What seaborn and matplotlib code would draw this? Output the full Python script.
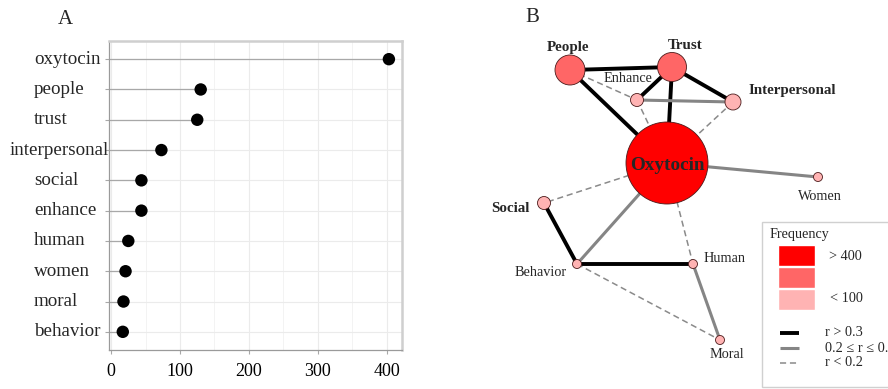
import matplotlib
matplotlib.use('Agg')
import matplotlib.pyplot as plt
import matplotlib.transforms as mtransforms
import seaborn as sns
import pandas as pd
from matplotlib.patches import Rectangle

# ---------------- data ----------------
words = ['oxytocin', 'people', 'trust', 'interpersonal', 'social',
         'enhance', 'human', 'women', 'moral', 'behavior']
freqs = [403, 130, 125, 73, 44, 44, 25, 21, 18, 17]
x_ticks = [0, 100, 200, 300, 400]
x_minor_ticks = [50, 150, 250, 350]

node_names = ['Oxytocin', 'People', 'Trust', 'Enhance', 'Interpersonal',
              'Women', 'Social', 'Behavior', 'Human', 'Moral']
node_x = [667, 570, 672, 637, 733, 818, 544, 577, 693, 720]
node_y = [163, 70, 67, 100, 102, 177, 203, 264, 264, 340]
node_level = ['high', 'mid', 'mid', 'low', 'low', 'low', 'low', 'low', 'low', 'low']
node_bold = [True, True, True, False, True, False, True, False, False, False]

edge_src = ['People', 'People', 'People', 'Trust', 'Trust', 'Trust', 'Enhance',
            'Enhance', 'Interpersonal', 'Oxytocin', 'Oxytocin', 'Oxytocin',
            'Oxytocin', 'Social', 'Behavior', 'Behavior', 'Human']
edge_dst = ['Trust', 'Oxytocin', 'Enhance', 'Enhance', 'Oxytocin', 'Interpersonal',
            'Interpersonal', 'Oxytocin', 'Oxytocin', 'Women', 'Social', 'Behavior',
            'Human', 'Behavior', 'Human', 'Moral', 'Moral']
edge_r = ['strong', 'strong', 'weak', 'strong', 'strong', 'strong', 'medium',
          'weak', 'weak', 'medium', 'weak', 'medium', 'weak', 'strong', 'strong',
          'weak', 'medium']

legend_freq_labels = ['> 400', '', '< 100']
legend_edge_labels = ['r > 0.3', '0.2 \u2264 r \u2264 0.3', 'r < 0.2']

# ---------------- styles ----------------
sns.set_theme(style='whitegrid')
plt.rcParams['font.family'] = ['Liberation Serif', 'DejaVu Serif']

level_color = {'high': '#FF0000', 'mid': '#FF6666', 'low': '#FFB3B3'}
node_radius_px = {'Oxytocin': 41, 'People': 15, 'Trust': 14.5, 'Enhance': 6.5,
                  'Interpersonal': 8, 'Women': 4.5, 'Social': 6.5,
                  'Behavior': 4.5, 'Human': 4.5, 'Moral': 4.5}
edge_style = {'strong': dict(color='black', lw=2.8, ls='-'),
              'medium': dict(color='#858585', lw=2.2, ls='-'),
              'weak': dict(color='#8a8a8a', lw=1.1, ls=(0, (4, 2.5)))}

W, H = 888, 389
fig = plt.figure(figsize=(W / 100, H / 100), dpi=100)

# ---------------- panel A ----------------
axA = fig.add_axes([109 / W, 1 - 350 / H, 293 / W, 309 / H])
df = pd.DataFrame({'word': words, 'freq': freqs})
xmin = -3
axA.hlines(y=range(len(words)), xmin=xmin, xmax=df['freq'], color='#a8a8a8', lw=0.9, zorder=1)
sns.scatterplot(data=df, x='freq', y='word', color='black', s=80, edgecolor='none',
                ax=axA, zorder=3, legend=False)
axA.set_xlim(xmin, 422)
axA.set_ylim(len(words) - 0.4, -0.6)
axA.set_xticks(x_ticks)
axA.set_xticks(x_minor_ticks, minor=True)
axA.set_xlabel('')
axA.set_ylabel('')
axA.grid(True, which='major', color='#ebebeb', lw=0.8)
axA.grid(True, which='minor', axis='x', color='#f3f3f3', lw=0.7)
axA.set_facecolor('white')
for side in ['left', 'bottom']:
    axA.spines[side].set_color('#9a9a9a')
    axA.spines[side].set_linewidth(0.9)
for side in ['top', 'right']:
    axA.spines[side].set_color('#cfcfcf')
    axA.spines[side].set_linewidth(1.8)
axA.tick_params(axis='both', which='major', labelsize=13, colors='#a8a8a8',
                labelcolor='black', length=3, width=0.8, left=True, bottom=True, pad=2)
axA.tick_params(axis='x', which='minor', bottom=False)
axA.tick_params(axis='x', pad=6)
axA.set_yticks(range(len(words)))
axA.set_yticklabels([])
lab_trans = mtransforms.blended_transform_factory(fig.transFigure, axA.transData)
for i, w in enumerate(words):
    if w == 'interpersonal':
        axA.text(108.5 / W, i, w, transform=lab_trans, ha='right', va='center',
                 fontsize=13.7, clip_on=False)
    else:
        axA.text(34 / W, i, w, transform=lab_trans, ha='left', va='center',
                 fontsize=13.7, clip_on=False)
fig.text(65 / W, 1 - 20 / H, 'A', fontsize=15, ha='center', va='center')

# ---------------- panel B ----------------
axB = fig.add_axes([470 / W, 0, (W - 470) / W, 1])
axB.set_xlim(470, W)
axB.set_ylim(H, 0)
axB.axis('off')

pos = {n: (x, y) for n, x, y in zip(node_names, node_x, node_y)}
for a, b, r in zip(edge_src, edge_dst, edge_r):
    st = edge_style[r]
    axB.plot([pos[a][0], pos[b][0]], [pos[a][1], pos[b][1]], color=st['color'],
             lw=st['lw'], ls=st['ls'], zorder=1, solid_capstyle='butt')

sizes = [(2 * node_radius_px[n] * 0.72) ** 2 for n in node_names]
colors = [level_color[l] for l in node_level]
axB.scatter(node_x, node_y, s=sizes, c=colors, edgecolors='#4a1a1a', linewidths=0.6, zorder=2)

label_pos = {'Oxytocin': (667, 165), 'People': (568, 47), 'Trust': (685, 45),
             'Enhance': (628, 78), 'Interpersonal': (792, 90), 'Women': (820, 196),
             'Social': (510, 208), 'Behavior': (541, 272), 'Human': (725, 258),
             'Moral': (727, 355)}
for n, bold in zip(node_names, node_bold):
    fs = 13.8 if n == 'Oxytocin' else (10.8 if bold else 10.3)
    axB.text(label_pos[n][0], label_pos[n][1], n, ha='center', va='center',
             fontsize=fs, fontweight='bold' if bold else 'normal', zorder=3)

fig.text(532 / W, 1 - 18 / H, 'B', fontsize=15, ha='center', va='center')

# legend box
axB.add_patch(Rectangle((762, 222), 140, 165, facecolor='white', edgecolor='#d0d0d0',
                        lw=1.0, zorder=4))
axB.text(770, 234, 'Frequency', fontsize=10.2, ha='left', va='center', zorder=5)
for i, lv in enumerate(['high', 'mid', 'low']):
    axB.add_patch(Rectangle((778, 245 + i * 22), 37, 21, facecolor=level_color[lv],
                            edgecolor='white', lw=1.0, zorder=5))
axB.text(829, 256, legend_freq_labels[0], fontsize=10.3, ha='left', va='center', zorder=5)
axB.text(830, 299, legend_freq_labels[2], fontsize=10.3, ha='left', va='center', zorder=5)
for i, r in enumerate(['strong', 'medium', 'weak']):
    st = edge_style[r]
    yy = 333 + i * 15
    axB.plot([780, 799], [yy, yy], color=st['color'], lw=st['lw'], ls=st['ls'],
             zorder=5, solid_capstyle='butt')
    axB.text(825, yy, legend_edge_labels[i], fontsize=10.3, ha='left', va='center', zorder=5)

fig.savefig('out.png', dpi=100)
